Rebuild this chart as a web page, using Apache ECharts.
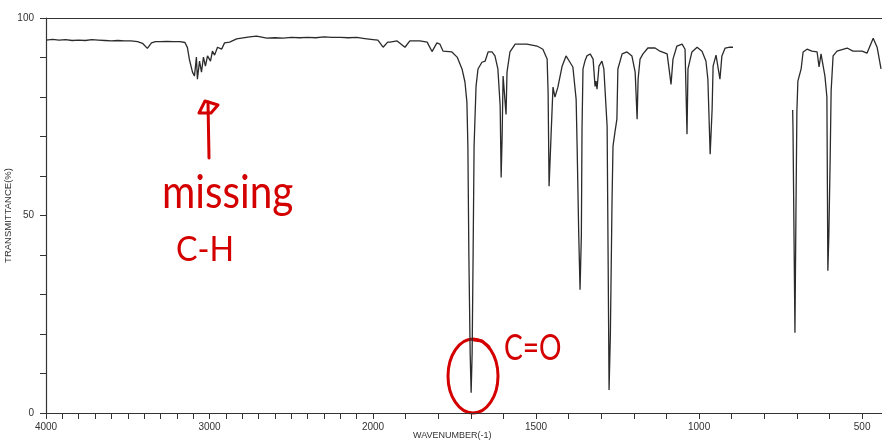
<!DOCTYPE html>
<html>
<head>
<meta charset="utf-8">
<script src="https://cdn.jsdelivr.net/npm/echarts@6/dist/echarts.min.js"></script>
<style>
html,body{margin:0;padding:0;background:#fff;}
#chart{width:882px;height:441px;}
</style>
</head>
<body>
<div id="chart"></div>
<script>
// ---- DATA (wavenumber in cm-1, transmittance in %) ----
// High-wavenumber panel (4000 - 2000 cm-1)
const wnHigh = [4000,3960,3920,3880,3840,3800,3760,3720,3680,3640,3600,3560,3520,3480,3440,3410,3380,3355,3330,3300,3260,3220,3180,3150,3135,3123,3104,3092,3080,3074,3061,3049,3037,3025,3012,2994,2982,2969,2951,2926,2908,2877,2834,2755,2712,2650,2600,2550,2500,2450,2400,2350,2300,2250,2200,2150,2100,2050,2000];
const tHigh = [94.4,94.6,94.4,94.5,94.3,94.4,94.3,94.5,94.4,94.3,94.2,94.3,94.2,94.2,94.0,93.6,92.3,93.7,94.0,94.0,94.1,94.0,94.0,93.8,92.5,89.5,86.3,85.3,90.1,84.5,89.1,86.3,90.1,87.8,90.4,89.1,91.6,90.6,92.6,92.1,93.7,93.9,94.7,95.2,95.4,94.9,95.0,94.9,95.1,95.0,95.1,95.0,95.2,95.1,95.1,95.0,95.1,94.8,94.5];
// Low-wavenumber panel (2000 - 440 cm-1); null = no recorded data
const wnLow = [2000,1985,1969,1955,1948,1926,1902,1887,1856,1834,1819,1804,1795,1785,1779,1758,1742,1727,1718,1712,1709,1706,1702,1699,1696,1693,1690,1684,1678,1666,1656,1647,1635,1626,1617,1610,1607,1604,1601,1597,1592,1589,1580,1564,1545,1528,1497,1479,1466,1463,1460,1454,1448,1442,1433,1420,1408,1396,1387,1377,1374,1369,1365,1361,1359,1356,1350,1344,1334,1325,1319,1316,1313,1307,1298,1292,1282,1279,1276,1272,1267,1264,1258,1252,1249,1236,1221,1206,1196,1190,1187,1181,1172,1157,1135,1120,1098,1092,1086,1080,1068,1052,1043,1037,1034,1022,1006,991,979,973,966,960,957,948,942,936,930,920,905,896,800,713,712,709,706,703,700,697,687,681,669,654,638,632,626,620,614,608,605,602,598,595,589,577,546,528,500,485,466,454,442];
const tLow = [94.5,94.4,92.6,93.9,93.9,94.2,92.6,94.2,94.2,93.9,91.5,93.7,93.4,91.6,91.6,91.4,90.1,87.1,83.8,78.7,67.5,40,15,5.1,15,40,67.5,82.7,87.1,88.8,89.1,91.4,91.4,90.4,87.1,77.7,59.6,70,85.3,85.3,75.6,86.3,91.4,93.4,93.4,93.4,92.9,92.1,89.6,81.2,57.4,70.1,82.5,80.0,82.5,87.8,90.4,88.8,87.6,79.4,67.5,45,31.2,45,71.8,87.1,89.1,90.4,90.9,89.6,82.7,84.0,82.0,87.8,89.1,87.1,72.6,40,5.8,20,53.3,67.5,71.1,74.4,87.1,90.9,91.4,90.4,86.3,74.4,84.5,89.6,90.9,92.4,92.4,91.6,90.9,87.1,83.2,89.6,92.9,93.4,92.1,70.6,87.1,91.4,92.6,91.6,89.1,84.5,65.5,76.9,87.8,90.6,90.1,84.5,90.4,92.4,92.6,92.6,null,76.7,72.3,72,20.3,50,76.4,84.0,87.1,91.4,92.1,91.6,91.4,87.6,90.9,90.4,85.3,80.0,36.0,45,64.2,81.5,90.4,91.6,92.4,91.6,91.6,91.1,94.9,92.6,87.1];
// Tick labels
const xLabelsHigh = [4000, 3000];
const xLabelsLow = [2000, 1500, 1000, 500];
const xTicksLow = [2000, 1900, 1800, 1700, 1600, 1500, 1400, 1300, 1200, 1100, 1000, 900, 800, 700, 600, 500];
const yLabels = [0, 50, 100];

const pairs = (xs, ys) => xs.map((x, i) => [x, ys[i]]);

const axisColor = '#333';
const labelFont = { color: '#333', fontSize: 10, fontFamily: 'Liberation Sans' };

const chart = echarts.init(document.getElementById('chart'), null, { renderer: 'canvas' });

const red = '#d40000';
const option = {
  animation: false,
  backgroundColor: '#fff',
  grid: [
    { left: 46, top: 18, width: 327, height: 395 },
    { left: 373, top: 18, right: 0, height: 395 }
  ],
  xAxis: [
    {
      gridIndex: 0, type: 'value', min: 2000, max: 4000, interval: 100, inverse: true,
      axisLine: { show: true, lineStyle: { color: axisColor, width: 1.2 } },
      axisTick: { show: true, length: 6, lineStyle: { color: axisColor } },
      axisLabel: Object.assign({ interval: 0, margin: 9, showMinLabel: true, showMaxLabel: true,
        formatter: v => xLabelsHigh.includes(v) ? String(v) : '' }, labelFont),
      splitLine: { show: false }
    },
    {
      gridIndex: 1, type: 'value', min: 439, max: 2000, inverse: true,
      axisLine: { show: true, lineStyle: { color: axisColor, width: 1.2 } },
      axisTick: { show: true, length: 6, customValues: xTicksLow, lineStyle: { color: axisColor } },
      axisLabel: Object.assign({ margin: 9, customValues: xLabelsLow,
        formatter: v => String(v) }, labelFont),
      splitLine: { show: false }
    },
    {
      gridIndex: 0, type: 'value', min: 2000, max: 4000, inverse: true, position: 'top',
      axisLine: { show: true, lineStyle: { color: axisColor, width: 1.2 } },
      axisTick: { show: false }, axisLabel: { show: false }, splitLine: { show: false }
    },
    {
      gridIndex: 1, type: 'value', min: 439, max: 2000, inverse: true, position: 'top',
      axisLine: { show: true, lineStyle: { color: axisColor, width: 1.2 } },
      axisTick: { show: false }, axisLabel: { show: false }, splitLine: { show: false }
    }
  ],
  yAxis: [
    {
      gridIndex: 0, type: 'value', min: 0, max: 100, interval: 10,
      name: 'TRANSMITTANCE(%)', nameLocation: 'middle', nameGap: 33, nameRotate: 90,
      nameTextStyle: { color: '#333', fontSize: 9.5, fontFamily: 'Liberation Sans' },
      axisLine: { show: true, lineStyle: { color: axisColor, width: 1.2 } },
      axisTick: { show: true, length: 6, lineStyle: { color: axisColor } },
      axisLabel: Object.assign({ interval: 0, margin: 12,
        formatter: v => yLabels.includes(v) ? String(v) : '' }, labelFont),
      splitLine: { show: false }
    },
    {
      gridIndex: 1, type: 'value', min: 0, max: 100, interval: 10, show: false,
      splitLine: { show: false }
    }
  ],
  series: [
    {
      type: 'line', xAxisIndex: 0, yAxisIndex: 0, data: pairs(wnHigh, tHigh),
      showSymbol: false, symbol: 'none', connectNulls: false,
      lineStyle: { color: '#2b2b2b', width: 1.3 }
    },
    {
      type: 'line', xAxisIndex: 1, yAxisIndex: 1, data: pairs(wnLow, tLow),
      showSymbol: false, symbol: 'none', connectNulls: false,
      lineStyle: { color: '#2b2b2b', width: 1.3 }
    }
  ],
  graphic: [
    { type: 'text', x: 413, y: 436, style: { text: 'WAVENUMBER(-1)', fill: '#333', font: '9px "Liberation Sans"', textAlign: 'left', textVerticalAlign: 'middle' } },
    // annotation: arrow
    { type: 'line', shape: { x1: 209, y1: 158, x2: 208, y2: 102 }, style: { stroke: red, lineWidth: 3, lineCap: 'round' } },
    { type: 'polyline', shape: { points: [[211, 113], [199, 113], [205, 101], [218, 105], [211, 113]] }, style: { stroke: red, lineWidth: 3, fill: null, lineJoin: 'round', lineCap: 'round' } },
    { type: 'text', x: 162, y: 193, scaleX: 0.88, style: { text: 'missing', fill: red, font: '46px Lato', textAlign: 'left', textVerticalAlign: 'middle' } },
    { type: 'text', x: 176, y: 250, scaleX: 0.92, style: { text: 'C-H', fill: red, font: '35px Lato', textAlign: 'left', textVerticalAlign: 'middle' } },
    { type: 'text', x: 504, y: 348, scaleX: 0.76, style: { text: 'C=O', fill: red, font: '37px Lato', textAlign: 'left', textVerticalAlign: 'middle' } },
    // annotation: circle around C=O band
    { type: 'ellipse', shape: { cx: 473, cy: 376, rx: 25, ry: 37 }, style: { stroke: red, lineWidth: 3, fill: null } },
    { type: 'polyline', shape: { points: [[474, 340], [482, 341], [489, 347]] }, style: { stroke: red, lineWidth: 3, fill: null, lineCap: 'round' } }
  ]
};
chart.setOption(option);
</script>
</body>
</html>
